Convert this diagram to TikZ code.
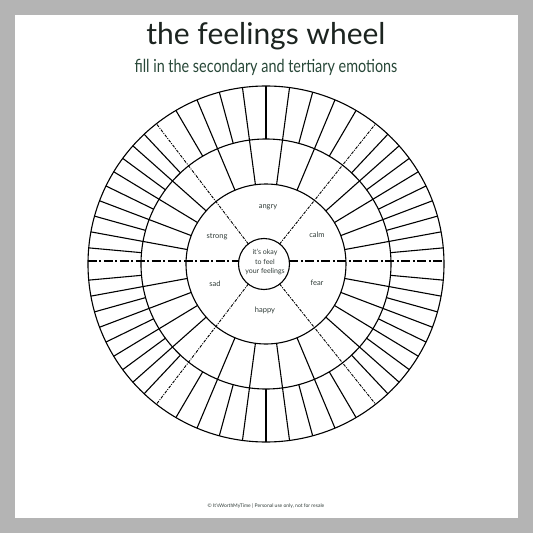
\documentclass[tikz,border=0pt]{standalone}
\usepackage{fontspec}
\setmainfont{Lato}
\newfontfamily\titlefont{Lato}
\newfontfamily\subfont[FakeStretch=0.8]{Lato}
\usetikzlibrary{backgrounds,calc}
\definecolor{pagegray}{RGB}{180,180,180}
\definecolor{ink}{RGB}{28,36,32}
\definecolor{subink}{RGB}{40,72,56}
\definecolor{labink}{RGB}{50,62,58}

\begin{document}
\begin{tikzpicture}[x=1pt,y=1pt,join=round, % feelings wheel worksheet
    ringline/.style={line width=1.1pt},
    divline/.style={line width=0.9pt,dash pattern=on 3pt off 1.2pt on 1pt off 1.2pt},
    axisline/.style={line width=1.1pt,dash pattern=on 9pt off 2.5pt on 2pt off 2.5pt},
    feel/.style={font=\fontsize{7.5}{9}\selectfont,text=labink}]
       \fill[pagegray](-266,-269) rectangle (267,264);
       \fill[white](-251,-254) rectangle (252,249);
       \node[anchor=base,text=ink,font=\titlefont\fontsize{30}{34}\selectfont] (title) at (0,219) {the feelings wheel};
       \node[anchor=base,text=subink,font=\subfont\fontsize{18}{20}\selectfont] (subtitle) at (0,191) {fill in the secondary and tertiary emotions};
       % rings
       \draw[ringline](0,0) circle (178);
       \draw[ringline](0,0) circle (125);
       \draw[ringline](0,0) circle (80);
       \coordinate (core) at (-2,0);
       \draw[ringline](core) circle (25.5);
       \foreach \a/\w in {0/52,52/76,128/52,180/52,232/76,308/52}{
          \foreach \k in {1,...,9}
             \draw[ringline]({\a+\w*\k/10}:125)--({\a+\w*\k/10}:178);
          \foreach \k in {1,...,4}
             \draw[ringline]({\a+\w*\k/5}:80)--({\a+\w*\k/5}:125);
       }
       % dividers
       \foreach \a in {52,128,232,308}
          \draw[divline]($(core)+(\a:25.5)$)--(\a:178);
       \draw[axisline](-178,3)--(-27.3,3);
       \draw[axisline](23.3,3)--(178,3);
       \node[feel] (angry) at (2,57) {angry};
       \node[feel] (strong) at (-49,27) {strong};
       \node[feel] (calm) at (51,29) {calm};
       \node[feel] (sad) at (-51,-20) {sad};
       \node[feel] (fear) at (51,-19) {fear};
       \node[feel] (happy) at (-1,-46) {happy};
       \node[feel,font=\fontsize{7}{9.5}\selectfont,align=center] (okay) at (-1,2) {it's okay\\to feel\\your feelings};
       \node[text=labink,font=\fontsize{5}{6}\selectfont] (footer) at (0,-242) {\textcopyright{} It'sWorthMyTime | Personal use only, not for resale};
\end{tikzpicture}
\end{document}
